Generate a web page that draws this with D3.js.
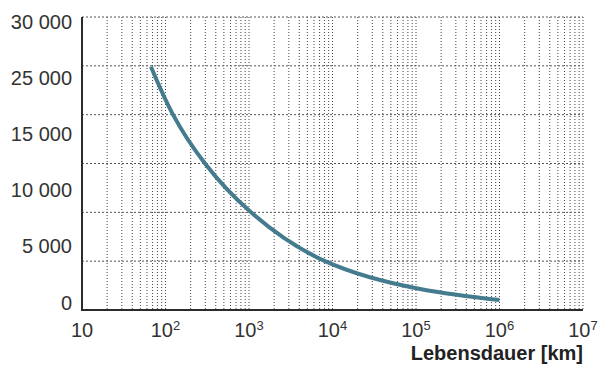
<!DOCTYPE html>
<html>
<head>
<meta charset="utf-8">
<script src="https://cdn.jsdelivr.net/npm/d3@7"></script>
<style>
  body { margin: 0; background: #fff; }
  svg { display: block; font-family: "Liberation Sans", Arial, sans-serif; }
</style>
</head>
<body>
<svg id="chart" width="598" height="367"></svg>
<script>
// y labels as printed on the chart (note: no 20 000)
const yLabels = ["30 000", "25 000", "15 000", "10 000", "5 000", "0"];
// horizontal grid values
const yGrid = [0, 5000, 10000, 15000, 20000, 25000, 30000];
// x decades (exponents of 10)
const xExponents = [1, 2, 3, 4, 5, 6, 7];
// curve
const lifetimeKm = [67, 123, 297, 1057, 8130, 112000, 1000000];
const loadValue  = [24900, 20000, 15000, 10000, 5000, 2150, 1020];

const svg = d3.select("#chart");

const x = d3.scaleLog().domain([10, 1e7]).range([82, 583]);
const y = d3.scaleLinear().domain([0, 30000]).range([310, 17]);

// minor + decade gridlines
let vGrid = [];
for (let e = 1; e <= 6; e++) {
  for (let k = 2; k <= 10; k++) vGrid.push(k * Math.pow(10, e));
}

svg.append("g")
  .selectAll("line")
  .data(vGrid)
  .join("line")
  .attr("x1", d => x(d)).attr("x2", d => x(d))
  .attr("y1", y(30000)).attr("y2", y(0))
  .attr("stroke", "#444")
  .attr("stroke-width", 1)
  .attr("stroke-dasharray", "1,2");

svg.append("g")
  .selectAll("line")
  .data(yGrid.filter(d => d > 0))
  .join("line")
  .attr("x1", x(10)).attr("x2", x(1e7))
  .attr("y1", d => y(d)).attr("y2", d => y(d))
  .attr("stroke", "#555")
  .attr("stroke-width", 1)
  .attr("stroke-dasharray", "2,2");

// axes lines
svg.append("line")
  .attr("x1", x(10)).attr("x2", x(10))
  .attr("y1", y(30000)).attr("y2", y(0) + 1)
  .attr("stroke", "#2b2b2b").attr("stroke-width", 2);
svg.append("line")
  .attr("x1", x(10) - 1).attr("x2", x(1e7))
  .attr("y1", y(0)).attr("y2", y(0))
  .attr("stroke", "#2b2b2b").attr("stroke-width", 2);

// curve
const pts = lifetimeKm.map((k, i) => [k, loadValue[i]]);
svg.append("path")
  .datum(pts)
  .attr("fill", "none")
  .attr("stroke", "#457b8f")
  .attr("stroke-width", 4)
  .attr("d", d3.line()
    .x(d => x(d[0]))
    .y(d => y(d[1]))
    .curve(d3.curveNatural));

// y labels
const yPos = d3.scalePoint().domain(yLabels).range([21.5, 302.5]);
svg.append("g")
  .selectAll("text")
  .data(yLabels)
  .join("text")
  .attr("x", 72)
  .attr("y", d => yPos(d))
  .attr("dy", "0.35em")
  .attr("text-anchor", "end")
  .attr("font-size", 20)
  .attr("fill", "#333")
  .text(d => d);

// x labels
const xl = svg.append("g")
  .selectAll("text")
  .data(xExponents)
  .join("text")
  .attr("x", d => x(Math.pow(10, d)))
  .attr("y", 337)
  .attr("text-anchor", "middle")
  .attr("font-size", 20)
  .attr("fill", "#333");
xl.append("tspan").text("10");
xl.filter(d => d > 1).append("tspan")
  .attr("font-size", 13)
  .attr("dy", -7)
  .text(d => d);

svg.append("text")
  .attr("x", 583)
  .attr("y", 360)
  .attr("text-anchor", "end")
  .attr("font-size", 20)
  .attr("font-weight", "bold")
  .attr("fill", "#222")
  .text("Lebensdauer [km]");
</script>
</body>
</html>
